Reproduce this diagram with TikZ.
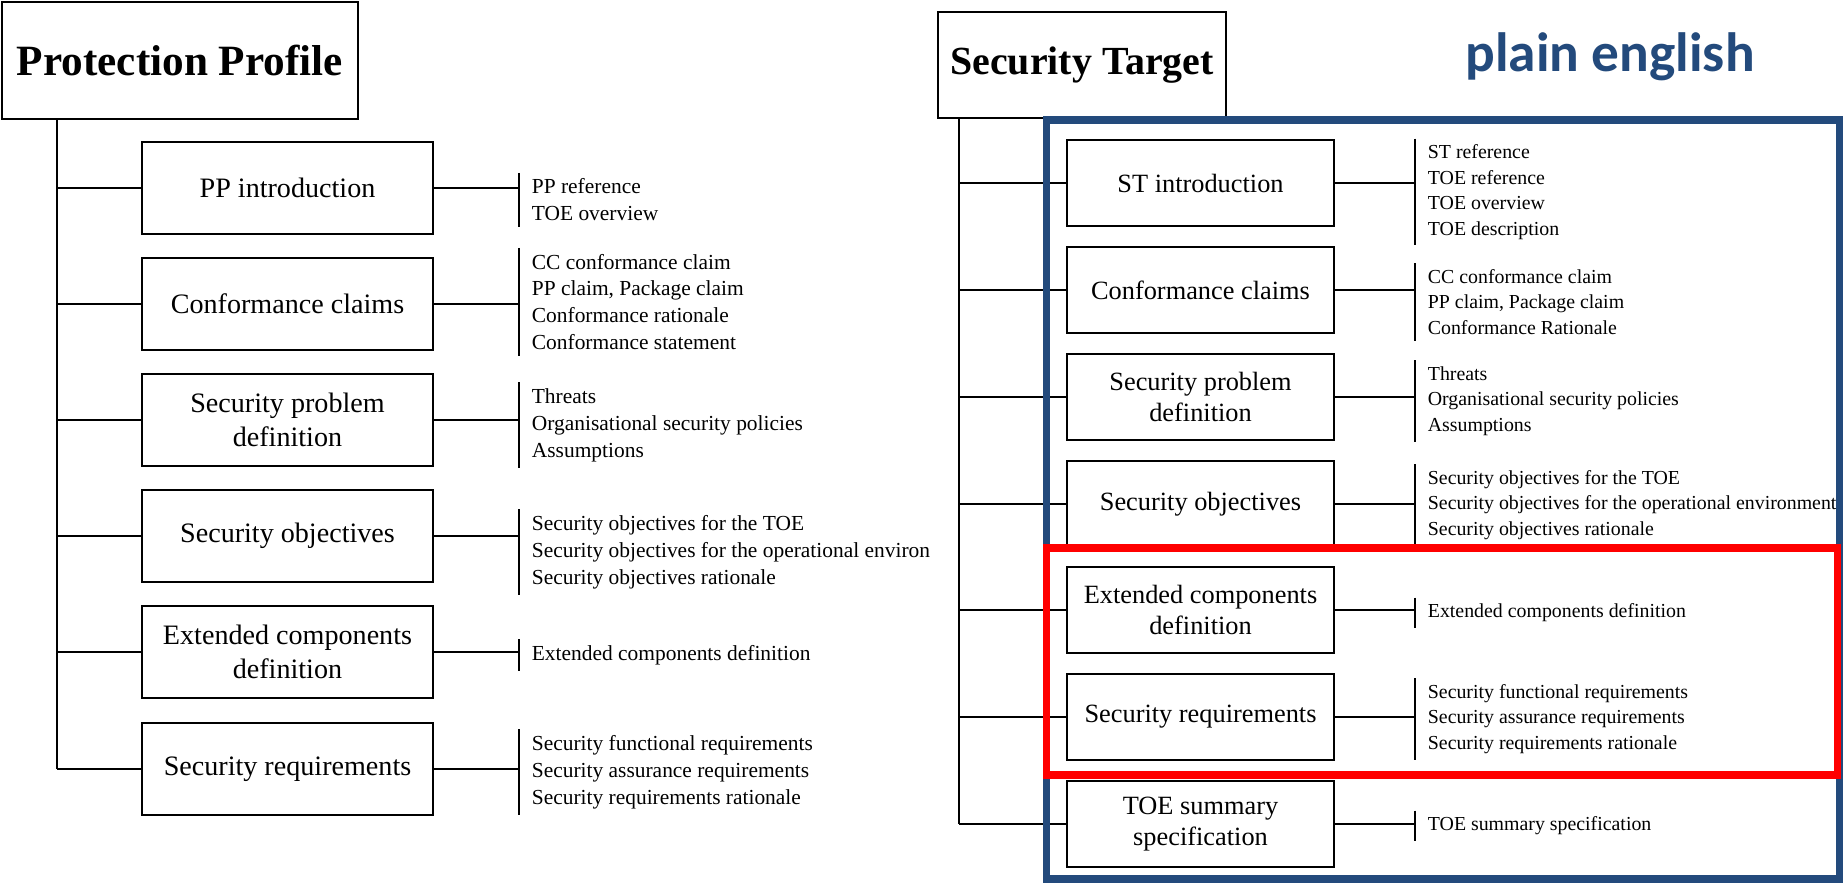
\documentclass[tikz,border=0pt]{standalone}
\usepackage{fontspec}
\setmainfont{Liberation Serif}
\newfontfamily\notefont{Carlito}
\definecolor{stblue}{RGB}{35,74,124}
\begin{document}
\begin{tikzpicture}[x=0.02cm,y=-0.02cm,line width=1pt,
    title/.style={draw,inner sep=0pt,font=\fontsize{24.6}{29}\bfseries},
    lpart/.style={draw,inner sep=0pt,align=center,minimum width=5.82cm,minimum height=1.84cm,font=\fontsize{16}{19.5}\selectfont},
    rpart/.style={draw,inner sep=0pt,align=center,minimum width=5.34cm,minimum height=1.72cm,font=\fontsize{15}{18}\selectfont},
    lsub/.style={anchor=west,align=left,inner xsep=0.24cm,inner ysep=3pt,font=\fontsize{12.2}{15.3}\selectfont},
    rsub/.style={anchor=west,align=left,inner xsep=0.24cm,inner ysep=3pt,font=\fontsize{11.3}{14.5}\selectfont}]
  \useasboundingbox (0,0) rectangle (1845,884);
  \node[title,minimum width=7.12cm,minimum height=2.34cm] (pp) at (180,60.5) {Protection Profile};
  \node[lpart] (pp1) at (287.5,188) {PP introduction};
  \node[lpart] (pp2) at (287.5,304) {Conformance claims};
  \node[lpart] (pp3) at (287.5,420) {Security problem\\definition};
  \node[lpart] (pp4) at (287.5,536) {Security objectives};
  \node[lpart] (pp5) at (287.5,652) {Extended components\\definition};
  \node[lpart] (pp6) at (287.5,769) {Security requirements};
  \node[lsub] (pp1s) at (519,200) {PP reference\\TOE overview};
  \node[lsub] (pp2s) at (519,302) {CC conformance claim\\PP claim, Package claim\\Conformance rationale\\Conformance statement};
  \node[lsub] (pp3s) at (519,425) {Threats\\Organisational security policies\\Assumptions};
  \node[lsub] (pp4s) at (519,552) {Security objectives for the TOE\\Security objectives for the operational environ\\Security objectives rationale};
  \node[lsub] (pp5s) at (519,655) {Extended components definition};
  \node[lsub] (pp6s) at (519,772) {Security functional requirements\\Security assurance requirements\\Security requirements rationale};
  \coordinate (ptrunk) at (57,0);
  \draw (pp.south -| ptrunk) -- (pp6.west -| ptrunk);
  \draw (pp1.west -| ptrunk) -- (pp1.west) (pp1.east) -- (pp1.east -| pp1s.west) (pp1s.north west) -- (pp1s.south west);
  \draw (pp2.west -| ptrunk) -- (pp2.west) (pp2.east) -- (pp2.east -| pp2s.west) (pp2s.north west) -- (pp2s.south west);
  \draw (pp3.west -| ptrunk) -- (pp3.west) (pp3.east) -- (pp3.east -| pp3s.west) (pp3s.north west) -- (pp3s.south west);
  \draw (pp4.west -| ptrunk) -- (pp4.west) (pp4.east) -- (pp4.east -| pp4s.west) (pp4s.north west) -- (pp4s.south west);
  \draw (pp5.west -| ptrunk) -- (pp5.west) (pp5.east) -- (pp5.east -| pp5s.west) (pp5s.north west) -- (pp5s.south west);
  \draw (pp6.west -| ptrunk) -- (pp6.west) (pp6.east) -- (pp6.east -| pp6s.west) (pp6s.north west) -- (pp6s.south west);

  \node[title,font=\fontsize{22.7}{27}\bfseries,minimum width=5.76cm,minimum height=2.12cm] (st) at (1082,65) {Security Target};
  \node[font=\notefont\fontsize{31.5}{36}\bfseries,text=stblue] (plain) at (1610,57) {plain english};
  \node[rpart] (st1) at (1200.5,183) {ST introduction};
  \node[rpart] (st2) at (1200.5,290) {Conformance claims};
  \node[rpart] (st3) at (1200.5,397) {Security problem\\definition};
  \node[rpart] (st4) at (1200.5,504) {Security objectives};
  \node[rpart] (st5) at (1200.5,610) {Extended components\\definition};
  \node[rpart] (st6) at (1200.5,717) {Security requirements};
  \node[rpart] (st7) at (1200.5,824) {TOE summary\\specification};
  \node[rsub] (st1s) at (1415,192) {ST reference\\TOE reference\\TOE overview\\TOE description};
  \node[rsub] (st2s) at (1415,302) {CC conformance claim\\PP claim, Package claim\\Conformance Rationale};
  \node[rsub] (st3s) at (1415,401) {Threats\\Organisational security policies\\Assumptions};
  \node[rsub] (st4s) at (1415,505) {Security objectives for the TOE\\Security objectives for the operational environment\\Security objectives rationale};
  \node[rsub] (st5s) at (1415,613) {Extended components definition};
  \node[rsub] (st6s) at (1415,719) {Security functional requirements\\Security assurance requirements\\Security requirements rationale};
  \node[rsub] (st7s) at (1415,826) {TOE summary specification};
  \coordinate (strunk) at (959,0);
  \draw (st.south -| strunk) -- (st7.west -| strunk);
  \draw (st1.west -| strunk) -- (st1.west) (st1.east) -- (st1.east -| st1s.west) (st1s.north west) -- (st1s.south west);
  \draw (st2.west -| strunk) -- (st2.west) (st2.east) -- (st2.east -| st2s.west) (st2s.north west) -- (st2s.south west);
  \draw (st3.west -| strunk) -- (st3.west) (st3.east) -- (st3.east -| st3s.west) (st3s.north west) -- (st3s.south west);
  \draw (st4.west -| strunk) -- (st4.west) (st4.east) -- (st4.east -| st4s.west) (st4s.north west) -- (st4s.south west);
  \draw (st5.west -| strunk) -- (st5.west) (st5.east) -- (st5.east -| st5s.west) (st5s.north west) -- (st5s.south west);
  \draw (st6.west -| strunk) -- (st6.west) (st6.east) -- (st6.east -| st6s.west) (st6s.north west) -- (st6s.south west);
  \draw (st7.west -| strunk) -- (st7.west) (st7.east) -- (st7.east -| st7s.west) (st7s.north west) -- (st7s.south west);

  \draw[stblue,line width=4pt] (1046,120) rectangle (1839,879);
  \draw[red,line width=4pt] (1046,548) rectangle (1837,775);
\end{tikzpicture}
\end{document}
